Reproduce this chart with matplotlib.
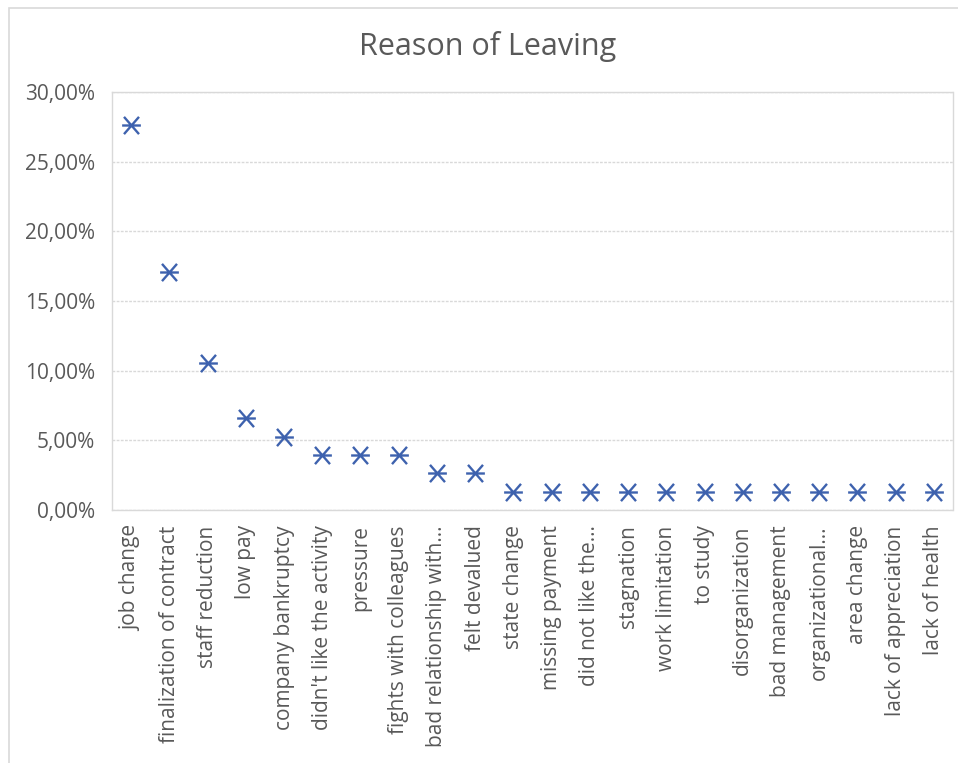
import matplotlib
matplotlib.use("Agg")
import matplotlib.pyplot as plt
from matplotlib.path import Path
from matplotlib.ticker import FuncFormatter
from matplotlib.patches import Rectangle

categories = ["job change", "finalization of contract", "staff reduction", "low pay",
              "company bankruptcy", "didn't like the activity", "pressure",
              "fights with colleagues", "bad relationship with...", "felt devalued",
              "state change", "missing payment", "did not like the...", "stagnation",
              "work limitation", "to study", "disorganization", "bad management",
              "organizational...", "area change", "lack of appreciation", "lack of health"]
values = [27.63, 17.11, 10.53, 6.58, 5.26, 3.95, 3.95, 3.95, 2.63, 2.63,
          1.32, 1.32, 1.32, 1.32, 1.32, 1.32, 1.32, 1.32, 1.32, 1.32, 1.32, 1.32]
yticks = [0, 5, 10, 15, 20, 25, 30]

plt.rcParams['font.family'] = ['Open Sans', 'DejaVu Sans']
text_color = "#595959"
grid_color = "#D9D9D9"
blue = "#3E62AE"

star = Path([(-1, 0), (1, 0), (-0.8, -0.92), (0.8, 0.92), (-0.8, 0.92), (0.8, -0.92)],
            [Path.MOVETO, Path.LINETO, Path.MOVETO, Path.LINETO, Path.MOVETO, Path.LINETO])

fig = plt.figure(figsize=(9.58, 7.63), dpi=100)
W, H = 958, 763
# outer chart border
fig.patches.append(Rectangle((9 / W, -0.01), 1.02, 1 - 8 / H + 0.01, transform=fig.transFigure,
                             fill=False, edgecolor="#D9D9D9", linewidth=1.2))

ax = fig.add_axes([112 / W, 1 - 510 / H, (953 - 112) / W, (510 - 92) / H])
x = list(range(len(categories)))
ax.plot(x, values, linestyle="none", marker=star, markersize=13.5, markeredgewidth=1.7,
        color=blue, markeredgecolor=blue)
ax.set_xlim(-0.5, len(categories) - 0.5)
ax.set_ylim(0, 30)
ax.set_yticks(yticks)
ax.yaxis.set_major_formatter(FuncFormatter(lambda v, p: f"{v:.2f}".replace(".", ",") + "%"))
ax.set_xticks(x)
ax.set_xticklabels(categories, rotation=90, va="top", ha="center")
ax.tick_params(axis="both", length=0, colors=text_color, labelsize=15)
ax.tick_params(axis="y", pad=12)
ax.tick_params(axis="x", pad=11)
ax.grid(axis="y", color=grid_color, linestyle=(0, (2, 1)), linewidth=1)
ax.set_axisbelow(True)
for s in ax.spines.values():
    s.set_color(grid_color)
    s.set_linestyle((0, (2, 1)))
    s.set_linewidth(1)

fig.text(488 / W, 1 - 47 / H, "Reason of Leaving", ha="center", va="center",
         fontsize=22, color=text_color)

fig.savefig("out.png", dpi=100)
